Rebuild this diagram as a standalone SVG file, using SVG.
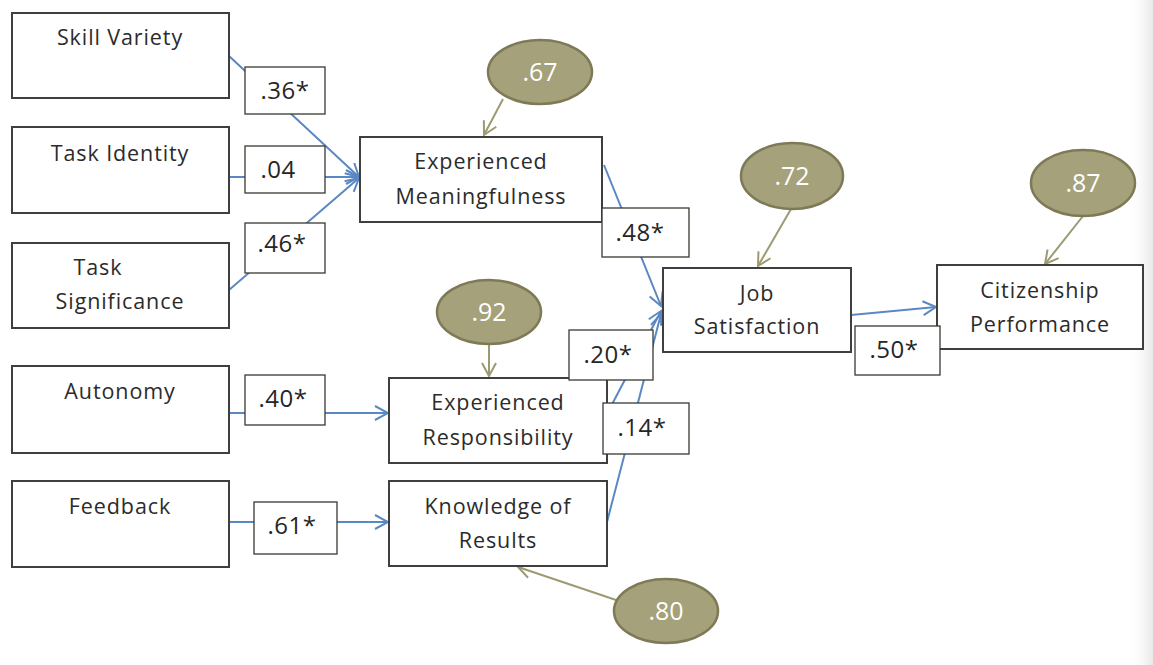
<svg xmlns="http://www.w3.org/2000/svg" width="1153" height="665" viewBox="0 0 1153 665">
  <style>
    .box { fill: #ffffff; stroke: #3f3f3f; stroke-width: 2; }
    .lbl { fill: #ffffff; stroke: #3a3a32; stroke-width: 1.3; }
    .txt { font-family: "Open Sans", "Liberation Sans", sans-serif; font-size: 21.5px; fill: #2b2b2b; text-anchor: middle; letter-spacing: 0.9px; }
    .num { font-family: "Open Sans", "Liberation Sans", sans-serif; font-size: 24px; fill: #262626; text-anchor: middle; letter-spacing: 0.5px; }
    .err { fill: #a5a17a; stroke: #7e7a57; stroke-width: 2.5; }
    .errtxt { font-family: "Open Sans", "Liberation Sans", sans-serif; font-size: 25px; fill: #ffffff; text-anchor: middle; }
    .path { fill: none; stroke: #5a88c2; stroke-width: 2; }
    .res { fill: none; stroke: #9c9a72; stroke-width: 2; }
  </style>
  <defs>
    <marker id="arrowBlue" markerUnits="userSpaceOnUse" markerWidth="16" markerHeight="18" refX="14" refY="8" orient="auto">
      <path d="M1,1 L14,8 L1,15" fill="none" stroke="#5a88c2" stroke-width="2"/>
    </marker>
    <marker id="arrowOlive" markerUnits="userSpaceOnUse" markerWidth="16" markerHeight="18" refX="14" refY="8" orient="auto">
      <path d="M1,1 L14,8 L1,15" fill="none" stroke="#9c9a72" stroke-width="2"/>
    </marker>
    <linearGradient id="edge" x1="0" y1="0" x2="1" y2="0">
      <stop offset="0" stop-color="#ffffff" stop-opacity="0"/>
      <stop offset="1" stop-color="#e8e8e8"/>
    </linearGradient>
  </defs>

  <rect x="0" y="0" width="1153" height="665" fill="#ffffff"/>
  <rect x="1128" y="0" width="25" height="665" fill="url(#edge)"/>

  <!-- structural paths -->
  <g id="connectors">
    <line class="path" x1="229" y1="56" x2="359" y2="177" marker-end="url(#arrowBlue)"/>
    <line class="path" x1="229" y1="177" x2="359" y2="177" marker-end="url(#arrowBlue)"/>
    <line class="path" x1="229" y1="290" x2="359" y2="178" marker-end="url(#arrowBlue)"/>
    <line class="path" x1="229" y1="413" x2="388" y2="413" marker-end="url(#arrowBlue)"/>
    <line class="path" x1="229" y1="522" x2="388" y2="522" marker-end="url(#arrowBlue)"/>
    <line class="path" x1="604" y1="165" x2="661" y2="306" marker-end="url(#arrowBlue)"/>
    <line class="path" x1="608" y1="412" x2="661" y2="311" marker-end="url(#arrowBlue)"/>
    <line class="path" x1="607" y1="522" x2="661" y2="314" marker-end="url(#arrowBlue)"/>
    <line class="path" x1="851" y1="315" x2="936" y2="307" marker-end="url(#arrowBlue)"/>
    <!-- residual terms -->
    <line class="res" x1="503" y1="99" x2="484" y2="135" marker-end="url(#arrowOlive)"/>
    <line class="res" x1="791" y1="209" x2="758" y2="266" marker-end="url(#arrowOlive)"/>
    <line class="res" x1="1083" y1="216" x2="1045" y2="264" marker-end="url(#arrowOlive)"/>
    <line class="res" x1="489" y1="345" x2="489" y2="376" marker-end="url(#arrowOlive)"/>
    <line class="res" x1="622" y1="602" x2="518" y2="567" marker-end="url(#arrowOlive)"/>
  </g>

  <!-- job characteristics -->
  <g id="skill-variety">
    <rect class="box" x="12" y="13" width="217" height="85"/>
    <text class="txt" x="120" y="45">Skill Variety</text>
  </g>
  <g id="task-identity">
    <rect class="box" x="12" y="127" width="217" height="86"/>
    <text class="txt" x="120" y="161">Task Identity</text>
  </g>
  <g id="task-significance">
    <rect class="box" x="12" y="243" width="217" height="85"/>
    <text class="txt" x="98" y="275">Task</text>
    <text class="txt" x="120" y="309">Significance</text>
  </g>
  <g id="autonomy">
    <rect class="box" x="12" y="366" width="217" height="87"/>
    <text class="txt" x="120" y="399">Autonomy</text>
  </g>
  <g id="feedback">
    <rect class="box" x="12" y="481" width="217" height="86"/>
    <text class="txt" x="120" y="514">Feedback</text>
  </g>

  <!-- psychological states -->
  <g id="experienced-meaningfulness">
    <rect class="box" x="360" y="137" width="242" height="85"/>
    <text class="txt" x="481" y="169">Experienced</text>
    <text class="txt" x="481" y="204">Meaningfulness</text>
  </g>
  <g id="experienced-responsibility">
    <rect class="box" x="389" y="378" width="218" height="85"/>
    <text class="txt" x="498" y="410">Experienced</text>
    <text class="txt" x="498" y="445">Responsibility</text>
  </g>
  <g id="knowledge-of-results">
    <rect class="box" x="389" y="481" width="218" height="85"/>
    <text class="txt" x="498" y="514">Knowledge of</text>
    <text class="txt" x="498" y="548">Results</text>
  </g>

  <!-- outcomes -->
  <g id="job-satisfaction">
    <rect class="box" x="663" y="268" width="188" height="84"/>
    <text class="txt" x="757" y="301">Job</text>
    <text class="txt" x="757" y="334">Satisfaction</text>
  </g>
  <g id="citizenship-performance">
    <rect class="box" x="937" y="265" width="206" height="84"/>
    <text class="txt" x="1040" y="298">Citizenship</text>
    <text class="txt" x="1040" y="332">Performance</text>
  </g>

  <!-- path coefficients -->
  <g id="coef-36">
    <rect class="lbl" x="245" y="67" width="80" height="47"/>
    <text class="num" x="285" y="99">.36*</text>
  </g>
  <g id="coef-04">
    <rect class="lbl" x="245" y="146" width="80" height="47"/>
    <text class="num" x="278" y="178">.04</text>
  </g>
  <g id="coef-46">
    <rect class="lbl" x="245" y="223" width="80" height="50"/>
    <text class="num" x="282" y="252">.46*</text>
  </g>
  <g id="coef-40">
    <rect class="lbl" x="245" y="375" width="80" height="50"/>
    <text class="num" x="283" y="407">.40*</text>
  </g>
  <g id="coef-61">
    <rect class="lbl" x="254" y="502" width="83" height="52"/>
    <text class="num" x="292" y="534">.61*</text>
  </g>
  <g id="coef-48">
    <rect class="lbl" x="602" y="208" width="87" height="49"/>
    <text class="num" x="640" y="241">.48*</text>
  </g>
  <g id="coef-20">
    <rect class="lbl" x="569" y="330" width="84" height="50"/>
    <text class="num" x="608" y="363">.20*</text>
  </g>
  <g id="coef-14">
    <rect class="lbl" x="603" y="403" width="86" height="51"/>
    <text class="num" x="642" y="436">.14*</text>
  </g>
  <g id="coef-50">
    <rect class="lbl" x="855" y="326" width="85" height="49"/>
    <text class="num" x="894" y="358">.50*</text>
  </g>

  <!-- residual variances -->
  <g id="resid-67">
    <ellipse class="err" cx="540" cy="72" rx="52" ry="32"/>
    <text class="errtxt" x="540" y="81">.67</text>
  </g>
  <g id="resid-72">
    <ellipse class="err" cx="792" cy="176" rx="51" ry="33"/>
    <text class="errtxt" x="792" y="185">.72</text>
  </g>
  <g id="resid-87">
    <ellipse class="err" cx="1083" cy="183" rx="52" ry="33"/>
    <text class="errtxt" x="1083" y="192">.87</text>
  </g>
  <g id="resid-92">
    <ellipse class="err" cx="489" cy="312" rx="52" ry="32"/>
    <text class="errtxt" x="489" y="321">.92</text>
  </g>
  <g id="resid-80">
    <ellipse class="err" cx="666" cy="611" rx="52" ry="32"/>
    <text class="errtxt" x="666" y="620">.80</text>
  </g>
</svg>
